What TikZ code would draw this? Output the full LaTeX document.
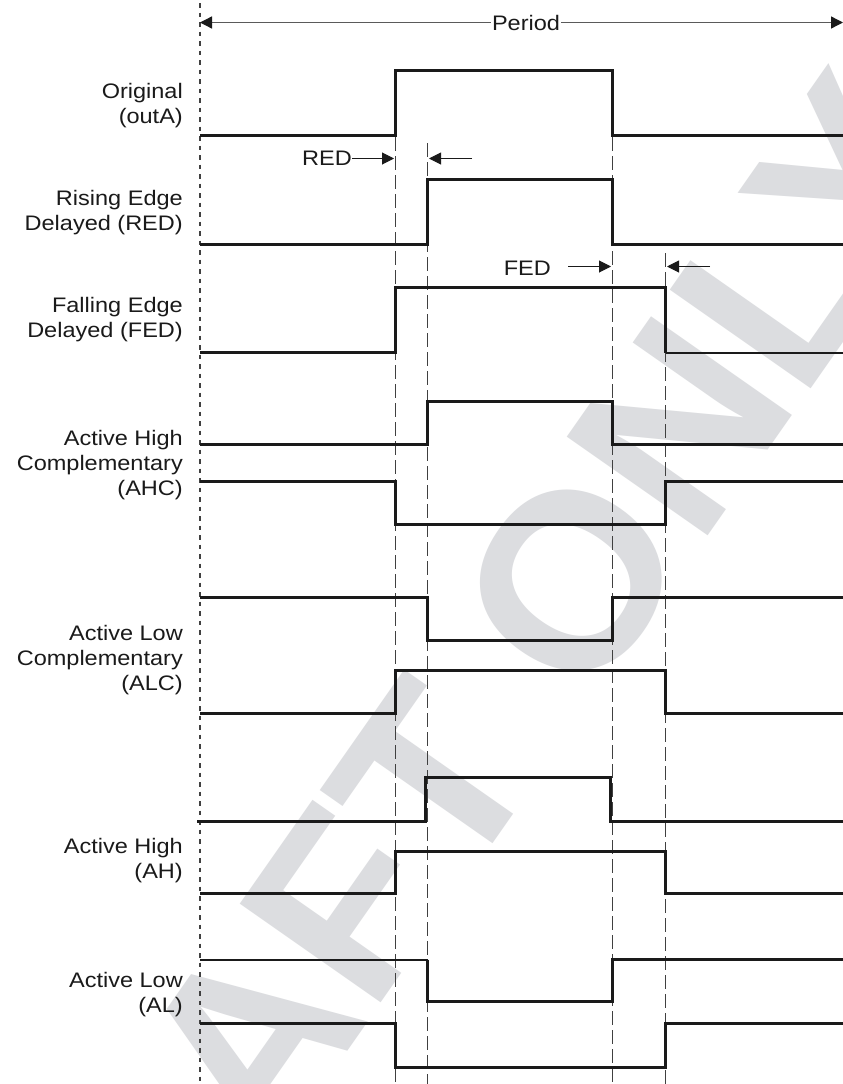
\documentclass[tikz,border=0pt]{standalone}
\usepackage{fontspec}
\setmainfont{Liberation Sans}[FakeStretch=1.12]
\newfontfamily\wmfont{Liberation Sans}
\usetikzlibrary{arrows.meta}
\definecolor{ink}{HTML}{1A1A1A}
\definecolor{wm}{HTML}{DCDDE0}
\definecolor{guide}{HTML}{404040}
\definecolor{dimgray}{HTML}{5A5A5A}
\begin{document}
\begin{tikzpicture}[x=1pt,y=-1pt,
  wave/.style={draw=ink, line width=3pt, line join=miter},
  thinwave/.style={draw=ink, line width=2pt},
  guideline/.style={draw=guide, line width=1.2pt, dash pattern=on 14pt off 5pt},
  refline/.style={draw=guide, line width=1.2pt, dash pattern=on 4.5pt off 5pt},
  lbl/.style={anchor=east, align=right, inner sep=0pt, text=ink, font=\fontsize{21}{25}\selectfont},
  dimtext/.style={inner sep=0pt, text=ink, font=\fontsize{21}{25}\selectfont},
  dimarrow/.style={draw=ink, line width=1pt, -{Triangle[length=12pt,width=12pt]}},
  periodline/.style={draw=dimgray, line width=1.3pt},
]
\useasboundingbox (0,0) rectangle (843,1084);
\fill[white] (0,0) rectangle (843,1084);
% watermark
\begin{scope}
\clip (0,0) rectangle (843,1084);
\node[rotate=55, text=wm, inner sep=0pt, font=\wmfont\bfseries\fontsize{250}{250}\selectfont] (wmark) at (446,760) {DRAFT ONLY};
\end{scope}

% reference lines
\coordinate (reftop) at (200,3);
\coordinate (refbot) at (200,1084);
\draw[refline] (reftop) -- (refbot);
\coordinate (g1t) at (395.5,137); \coordinate (g1b) at (395.5,1084);
\coordinate (g2t) at (427.5,143); \coordinate (g2b) at (427.5,1084);
\coordinate (g3t) at (612.5,137); \coordinate (g3b) at (612.5,1084);
\coordinate (g4t) at (665.5,253); \coordinate (g4b) at (665.5,1084);
\draw[guideline] (g1t) -- (g1b);
\draw[guideline] (g2t) -- (g2b);
\draw[guideline] (g3t) -- (g3b);
\draw[guideline] (g4t) -- (g4b);

% period
\coordinate (pl) at (200,22.5);
\coordinate (pr) at (843,22.5);
\node[dimtext, inner xsep=1pt] (period) at (526,22.5) {Period};
\draw[periodline, arrows={{Triangle[length=12pt,width=12pt,fill=ink,color=ink]}-}] (pl) -- (period.west);
\draw[periodline, arrows={-{Triangle[length=12pt,width=12pt,fill=ink,color=ink]}}] (period.east) -- (pr);

% waveforms
\draw[wave] (200,135.5) -- (395.5,135.5) -- (395.5,70.5) -- (612.5,70.5) -- (612.5,135.5) -- (843,135.5);
\draw[wave] (200,244.5) -- (427.5,244.5) -- (427.5,179.5) -- (612.5,179.5) -- (612.5,244.5) -- (843,244.5);
\draw[wave] (200,352.5) -- (395.5,352.5) -- (395.5,287.5) -- (665.5,287.5) -- (665.5,352.5);
\draw[thinwave] (665.5,352.5) -- (843,352.5);
\draw[wave] (200,444.5) -- (427.5,444.5) -- (427.5,401.5) -- (612.5,401.5) -- (612.5,444.5) -- (843,444.5);
\draw[wave] (200,481.5) -- (395.5,481.5) -- (395.5,524.5) -- (665.5,524.5) -- (665.5,481.5) -- (843,481.5);
\draw[wave] (200,597.5) -- (427.5,597.5) -- (427.5,640.5) -- (612.5,640.5) -- (612.5,597.5) -- (843,597.5);
\draw[wave] (200,713.5) -- (395.5,713.5) -- (395.5,670.5) -- (665.5,670.5) -- (665.5,713.5) -- (843,713.5);
\draw[wave] (197,821.5) -- (425.5,821.5) -- (425.5,777.5) -- (610.5,777.5) -- (610.5,821.5) -- (843,821.5);
\draw[wave] (200,893.5) -- (395.5,893.5) -- (395.5,851.5) -- (665.5,851.5) -- (665.5,893.5) -- (843,893.5);
\draw[thinwave] (200,959.5) -- (427.5,959.5);
\draw[wave] (427.5,959.5) -- (427.5,1001.5) -- (612.5,1001.5) -- (612.5,959.5) -- (843,959.5);
\draw[wave] (200,1023.5) -- (395.5,1023.5) -- (395.5,1067.5) -- (665.5,1067.5) -- (665.5,1023.5) -- (843,1023.5);

% labels
\node[lbl] (lorig) at (183,105.5) {Original\\(outA)};
\node[lbl] (lred) at (183,213) {Rising Edge\\Delayed (RED)};
\node[lbl] (lfed) at (183,320) {Falling Edge\\Delayed (FED)};
\node[lbl] (lahc) at (183,465) {Active High\\Complementary\\(AHC)};
\node[lbl] (lalc) at (183,660.5) {Active Low\\Complementary\\(ALC)};
\node[lbl] (lah) at (183,861) {Active High\\(AH)};
\node[lbl] (lal) at (183,994.5) {Active Low\\(AL)};

% RED dimension
\node[dimtext, anchor=east] (red) at (352,158.5) {RED};
\coordinate (redtip) at (394,158.5);
\draw[dimarrow] (red.east) -- (redtip);
\coordinate (redltail) at (472,158.5);
\coordinate (redltip) at (429,158.5);
\draw[dimarrow] (redltail) -- (redltip);

% FED dimension
\node[dimtext, anchor=east] (fed) at (551,268) {FED};
\coordinate (fedtail) at (568,266.5);
\coordinate (fedtip) at (611,266.5);
\draw[dimarrow] (fedtail) -- (fedtip);
\coordinate (fedltail) at (710,266.5);
\coordinate (fedltip) at (667,266.5);
\draw[dimarrow] (fedltail) -- (fedltip);
\end{tikzpicture}
\end{document}
